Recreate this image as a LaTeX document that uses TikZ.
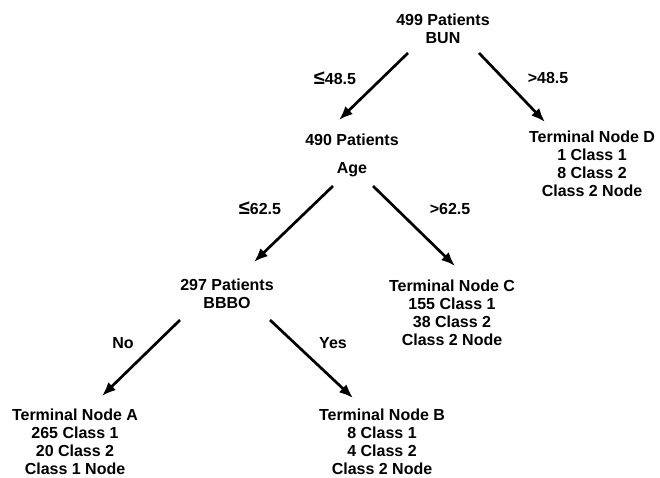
\documentclass[tikz,border=0pt]{standalone}
\usepackage{fontspec}
\setmainfont{Liberation Sans}
\usetikzlibrary{arrows.meta}
\newcommand{\lesym}{{\fontsize{20}{18}\selectfont ≤}}

\begin{document}
\begin{tikzpicture}[x=1pt,y=-1pt,>={Latex[length=14pt,width=11pt]},
        every node/.style={font=\fontsize{16}{18}\selectfont\bfseries, align=center},
        branch/.style={->, line width=2.7pt}]
    \useasboundingbox (0,0) rectangle (660,478);

    % splitting nodes
    \node (root) at (443,29) {499 Patients\\BUN};
    \node (n490) at (352,155) {490 Patients\\[10pt]Age};
    \node (n297) at (227,294) {297 Patients\\BBBO};

    % terminal nodes
    \node (termD) at (592,164) {Terminal Node D\\1 Class 1\\8 Class 2\\Class 2 Node};
    \node (termC) at (452,313) {Terminal Node C\\155 Class 1\\38 Class 2\\Class 2 Node};
    \node (termA) at (75,442) {Terminal Node A\\265 Class 1\\20 Class 2\\Class 1 Node};
    \node (termB) at (382,442) {Terminal Node B\\8 Class 1\\4 Class 2\\Class 2 Node};

    % branches
    \draw[branch] ([shift={(-35,24)}]root.center) -- ([shift={(-13,-35)}]n490.center);
    \draw[branch] ([shift={(36,24)}]root.center) -- ([shift={(-47,-42)}]termD.center);
    \draw[branch] ([shift={(-19,31)}]n490.center) -- ([shift={(27,-32)}]n297.center);
    \draw[branch] ([shift={(21,31)}]n490.center) -- ([shift={(3,-47)}]termC.center);
    \draw[branch] ([shift={(-47,26)}]n297.center) -- ([shift={(27,-46)}]termA.center);
    \draw[branch] ([shift={(43,26)}]n297.center) -- ([shift={(-29,-44)}]termB.center);

    % split values
    \node (bunlo) at (335,78) {\lesym48.5};
    \node (bunhi) at (548,78) {>48.5};
    \node (agelo) at (260,208) {\lesym62.5};
    \node (agehi) at (450,209) {>62.5};
    \node (bbbno) at (123,343) {No};
    \node (bbbyes) at (333,343) {Yes};
\end{tikzpicture}
\end{document}
